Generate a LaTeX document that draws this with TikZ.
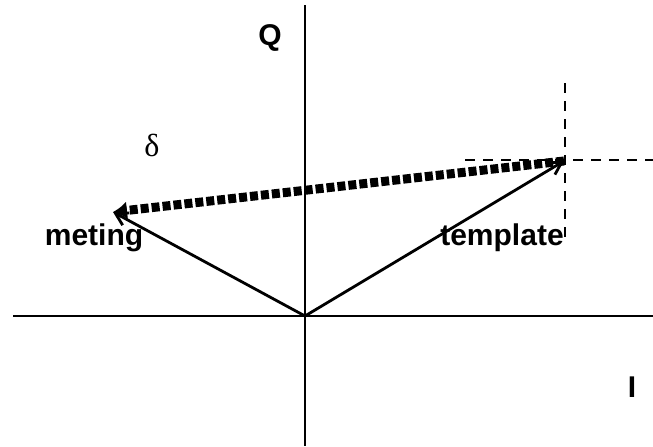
\documentclass[tikz,border=0pt]{standalone}
\usepackage{fontspec}
\setsansfont{Liberation Sans}
\newfontfamily\greekfont{Liberation Serif}
\usetikzlibrary{arrows.meta,positioning}

\begin{document}
\begin{tikzpicture}[x=0.5pt,y=-0.5pt,>=Latex,
axis/.style={line width=1pt},
vec/.style={line width=1.4pt,-{Straight Barb[length=6pt,width=7pt]}},
diff/.style={line width=4.5pt,dash pattern=on 4pt off 1.5pt,-{Latex[length=7pt,width=9pt]}},
guide/.style={line width=0.8pt,dash pattern=on 5pt off 4pt},
lbl/.style={font=\sffamily\bfseries\fontsize{15}{18}\selectfont}]
\useasboundingbox (0,0) rectangle (653,446);
% axes
\coordinate (O) at (305,316);
\coordinate (xl) at (13,316);
\coordinate (xr) at (653,316);
\coordinate (yt) at (305,5);
\coordinate (yb) at (305,446);
\draw[axis] (xl) -- (xr);
\draw[axis] (yt) -- (yb);
\node[lbl] (q) at (270,38) {Q};
\node[lbl] (i) at (632,387) {I};
% vectors
\coordinate (T) at (564,161);
\coordinate (M) at (113,212);
\draw[vec] (O) -- (T);
\draw[vec] (O) -- (M);
\draw[diff] (T) -- (M);
% projections
\coordinate (ga) at (565,83);
\coordinate (gb) at (565,240);
\coordinate (gc) at (465,160);
\coordinate (gd) at (653,160);
\draw[guide] (ga) -- (gb);
\draw[guide] (gc) -- (gd);
% labels
\node[lbl] (met) at (94,238) {meting};
\node[lbl] (tpl) at (502,238) {template};
\node[font=\greekfont\fontsize{16}{18}\selectfont] (d) at (152,145) {δ};
\end{tikzpicture}
\end{document}
